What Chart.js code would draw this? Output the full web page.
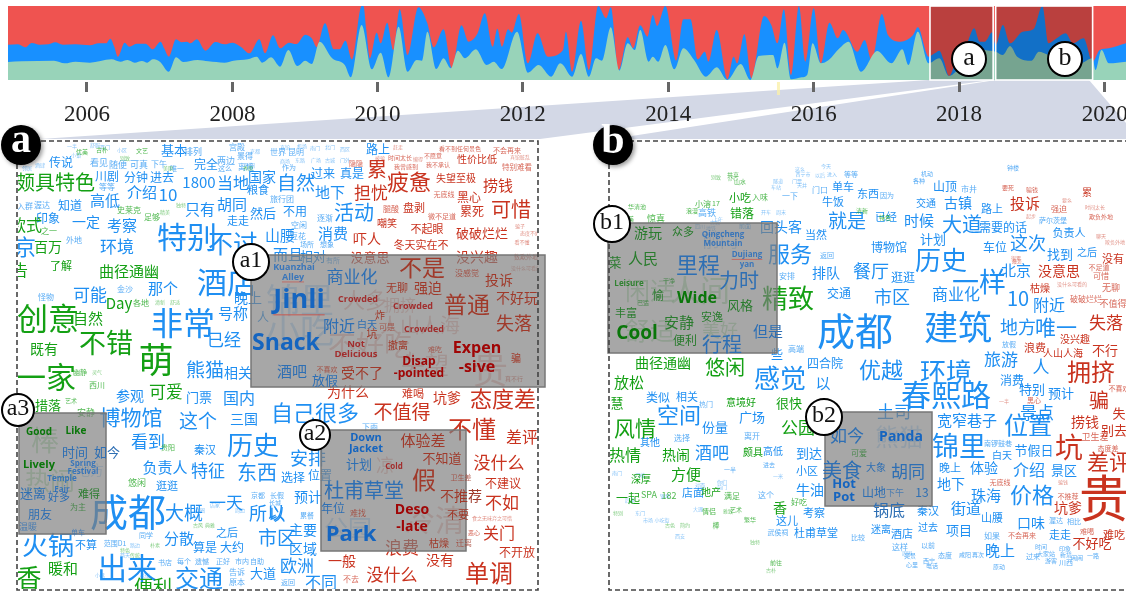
<!DOCTYPE html>
<html>
<head>
<meta charset="utf-8">
<title>Stream and word clouds</title>
<script src="https://cdn.jsdelivr.net/npm/chart.js@4"></script>
<style>
  html, body { margin: 0; padding: 0; background: #fff; overflow: hidden; }
  canvas { position: absolute; left: 0; top: 0; }
  #cloud { filter: blur(0.5px); }
  #stream { filter: blur(0.3px); }
</style>
</head>
<body>
<canvas id="cloud" width="1126" height="591"></canvas>
<canvas id="stream" width="1126" height="130"></canvas>
<script>
// time axis: sample index along the stream
const tickPositions = [242, 647, 1051, 1456, 1861, 2266, 2671, 3077];
const tickLabels = ['2006', '2008', '2010', '2012', '2014', '2016', '2018', '2020'];

// top of the blue band
const blueX = [22,50,70,88,110,135,153,175,210,250,275,295,307,318,328,347,360,380,405,425,447,457,470,490,505,520,530,548,572,600,625,648,670,695,722,738,760,780,805,825,850,868,882,905,930,945,962,980,1007,1012,1020,1030,1049,1060,1078,1095,1113,1135,1165,1190,1208,1235,1258,1285,1305,1330,1350,1372,1385,1398,1415,1425,1445,1470,1497,1525,1568,1576,1593,1618,1640,1666,1688,1701,1723,1748,1763,1783,1803,1818,1830,1853,1883,1903,1923,1943,1963,1973,1996,2026,2043,2053,2073,2093,2128,2148,2165,2183,2203,2225,2243,2266,2286,2310,2333,2348,2388,2408,2428,2456,2473,2508,2543,2556,2586,2603,2616,2628,2643,2668,2693,2713,2728,2743,2763,2773,2793,2813,2848,2878,2903,2920,2943,2968,2988,3018,3043,3063,3088,3136];
const blueTop = [106,107,98,111,106,107,113,106,107,104,110,110,124,100,70,112,100,109,109,92,115,95,70,122,113,115,110,122,88,114,107,112,100,80,122,80,134,95,112,108,136,125,98,170,92,92,118,62,222,222,150,65,142,110,172,90,212,75,218,170,98,152,35,164,115,140,200,100,154,100,152,142,198,50,140,70,90,145,25,178,30,222,185,218,30,128,95,164,130,195,162,222,58,182,182,62,85,55,150,2,70,50,137,5,192,165,110,212,15,222,55,215,50,172,125,150,85,120,58,198,135,115,135,158,70,80,88,60,12,75,110,155,115,115,143,105,165,110,145,152,222,110,125,140,110,125,55,90,95,110];

// top of the green band
const greenX = [22,60,150,180,210,250,310,335,355,375,395,410,425,445,470,490,510,550,580,625,650,690,715,730,755,780,803,828,850,868,890,925,960,977,1007,1035,1060,1082,1110,1135,1160,1175,1190,1215,1235,1255,1275,1295,1325,1355,1375,1397,1440,1470,1500,1535,1560,1568,1593,1618,1640,1660,1676,1701,1725,1748,1768,1783,1806,1818,1833,1853,1878,1903,1933,1966,1996,2025,2063,2090,2113,2153,2165,2185,2203,2233,2248,2263,2286,2308,2338,2363,2398,2443,2483,2513,2530,2556,2586,2616,2643,2668,2693,2713,2743,2773,2793,2813,2833,2873,2893,2920,2948,2968,3008,3043,3051,3068,3088,3136];
const greenTop = [54,56,58,50,55,52,62,55,60,52,57,52,62,55,25,68,54,60,56,52,58,62,70,52,68,40,90,42,58,48,115,65,45,8,165,32,82,8,160,25,60,58,145,33,65,35,88,65,92,45,55,33,145,22,45,10,50,45,10,78,10,65,58,158,28,110,90,150,55,70,55,105,32,95,60,10,38,0,48,0,72,75,35,112,2,8,15,110,50,60,95,115,25,87,50,92,45,145,50,65,12,30,50,105,90,85,75,102,70,58,85,75,60,65,50,65,30,90,50,55];

const streamFull = 222;
const streamMin = -6;
const periods = [[2590, 2766], [2773, 3043]];
const periodNames = ['a', 'b'];

// word clouds: [word, x, y, size]
const aBlueWords = [
  ['传说',61,162,12],['川剧',107,176,12],['分钟',136,177,12],['进去',162,177,12],['看见',99,163,9],['随便',118,165,9],['可真',139,165,9],['下午',159,164,8],['基本',174,150,13],['排列',193,152,9],['完全',206,164,12],['两边',226,161,9],['这么',225,168,7],['宫殿',237,147,8],['景得',245,156,8],['离境',246,167,8],['等等',107,187,8],['介绍',142,192,15],['10',168,195,17],['1800',199,182,15],['当地',233,183,16],['国家',262,177,14],['粮食',258,190,11],['高低',105,200,15],['知道',70,205,12],['渥达',42,205,8],['入群',25,206,8],['一定',86,222,14],['考察',122,225,15],['印象',48,218,12],['只有',200,209,15],['胡同',232,204,15],['然后',263,213,13],['走走',238,221,11],['特别',187,237,30],['不过',233,243,25],['山腰',280,235,15],['环境',117,247,17],['京',25,247,22],['外地',74,240,8],['金沙',125,289,8],['怪物',46,297,8],['那个',163,288,15],['可能',90,295,17],['酒店',227,282,30],['晚上',248,298,14],['号称',233,313,15],['人',263,317,12],['非常',183,323,32],['已经',224,340,17],
  ['熊猫',205,370,19],['相关',238,373,14],['门票',199,397,13],['国内',239,398,16],['参观',130,396,14],['这个',198,421,19],['三国',244,419,14],['自己很多',315,413,22],['博物馆',131,417,21],['看到',148,442,17],['历史',253,445,26],['秦汉',205,450,11],['负责人',165,467,15],['特征',208,471,17],['东西',257,472,20],['逛逛',167,486,11],['大概',184,513,19],['一天',226,503,17],['所以',267,513,18],['成都',128,512,38],['分散',179,538,15],['算是',205,547,12],['大约',232,547,12],['之后',227,533,11],['市区',277,538,19],['火锅',48,545,26],['出来',127,568,30],['交通',199,578,24],['不算',86,545,11],['范围D1',115,543,7],['同学',146,535,7],['书店',165,562,7],['每个',184,561,7],['遗憾',202,561,7],['正好',223,561,7],['市内',242,561,7],['自助',257,561,7],['告诉',237,572,8],['原本',237,582,8],['大道',263,573,13],['区域',303,549,14],['主要',303,530,14],['欧洲',297,566,17],['不同',321,582,16],['返回',288,582,7],['预计',308,497,14],['选择',293,477,12],['位置',320,475,12],['安排',308,458,18],['长假',277,495,7],['累餐',307,515,7],['以',277,515,17],['下雨',370,427,8],
  ['世界',278,152,8],['昆明',296,152,8],['自然',296,183,19],['过来',323,173,12],['真是',352,173,12],['路上',378,149,12],['地下',330,192,15],['活动',354,212,20],['旅行团',282,199,8],['不用',295,211,12],['逐渐',325,218,8],['消费',333,233,15],['空闲',299,225,8],['豆花',298,236,8],['场所',307,244,7],['想象',327,244,7],['而且',288,254,15],['相对',313,256,13],['有所',333,260,7],['作为',289,167,7],
  ['京都',255,151,5],['宾馆',285,147,5],['机场',302,146,5],['商场',285,161,5],['东路',300,160,5],['南门',315,148,5],['北门',330,147,5],['西区',345,149,5],['广场',316,160,5],['古城',330,160,5],['门外',345,160,5],['唯一',177,168,7],['舒服',95,145,5],['一半',72,146,5],['小区',122,150,5],['时间',250,165,5],['京都',258,495,7],['长城',275,503,6],['酒肆',40,165,5],['邻居',27,168,5],['小镇',76,155,5],['西门',105,147,5],['周边',240,510,5],['商圈',200,510,5],['店家',215,505,5],['小巷',100,575,5],['老街',145,575,5],['两天',125,555,5],['路边',135,545,5]
];
const aGreenWords = [
  ['颇具特色',55,182,20],['款式',26,225,16],['百万',48,247,14],['之一',49,231,8],['了解',61,266,11],['告',20,270,16],['曲径通幽',129,271,15],['史莱克',129,210,8],['足够',152,217,8],['创意',48,318,31],['自然',88,318,15],['Day',119,303,15],['各地',141,303,8],['不错',106,343,27],['既有',44,349,14],['萌',156,360,35],['一家',46,377,30],['可爱',166,392,17],['措落',48,405,13],['艺术',71,401,6],['安静',86,413,9],['西川',97,385,8],['悠闲',137,483,9],['便利',153,587,19],['香',29,577,25],['暖和',63,568,15],['贵阳',168,447,7],['清新',160,302,5],['舒适',175,302,5],['优美',82,152,6],['古朴',102,150,6],['别致',125,158,5],['文艺',142,151,6],['美丽',168,168,5],['幽静',80,372,7],['灵气',97,372,5],['古风',198,525,5],['典雅',210,525,5],['特色',125,550,5],['传统',135,555,5],['朴素',155,545,5],['秀丽',248,168,5],['独特',181,205,5],['精美',165,212,5]
];
const aRedWords = [
  ['为什么',348,392,14],['累',377,169,20],['隐隐',356,163,7],['疲惫',409,182,22],['担忧',371,193,17],['失望至极',456,178,10],['捞钱',498,185,15],['性价比低',477,159,10],['特别难看',517,167,7.5],['无底线',444,194,7],['黑心',469,197,12],['可惜',511,209,20],['累死',472,211,12],['盘剥',414,208,11],['腿酸',391,209,8],['微不足道',442,216,7],['嘲笑',387,223,10],['不起眼',427,229,11],['破破烂烂',482,233,13],['吓人',367,239,14],['冬天实在不',421,245,11],['没意思',370,257,13],['没兴趣',477,257,14],
  ['赶走',398,147,5],['时间太长',400,158,6],['懒得',418,159,5],['不愿意',433,156,6],['我不承认',438,165,6],['我曾感到',406,167,6],['看不到任何景色',460,149,6],['不会再来',507,150,7],['宾馆脏乱',520,157,5],['被骗',380,158,5],['骗子',520,226,5],['态度不好',530,233,5],['看不懂',522,242,5],['数欺外地',526,257,6],['没什么可看的',526,268,5],
  ['难喝',413,394,11],['不值得',402,412,19],['坑爹',447,398,14],['态度差',503,399,22],['不懂',472,429,24],['差评',522,437,16],['没什么',499,463,17],['不建议',503,483,12],['不如',502,503,17],['关门',499,533,16],['不开放',517,552,12],['一般',342,561,14],['不去',351,579,8],['没什么',392,575,17],['单调',489,573,24],['没有',440,560,14],['浪费',402,548,17],['食之无味弃之可惜',492,518,5],['恶心',474,533,6],['真不行',514,379,6]
];
const aGhostWords = [
  ['锦里',300,300,34,'b'],['小吃',300,330,34,'b'],['人多',365,300,22,'r'],['不好吃',370,345,28,'r'],['人山人海',420,325,20,'r'],['拥挤',400,305,16,'r'],['贵',490,370,36,'r'],['失望',425,365,24,'r'],
  ['棒',45,440,28,'g'],['热闹',50,480,25,'g'],['地方',90,470,14,'b'],
  ['公园',348,528,24,'b'],['凉',385,465,18,'r'],['冷清',435,520,30,'r']
];
const aBoxBlue = [['商业化',352,277,17],['附近',339,326,16],['白天',367,324,10],['酒吧',292,371,15],['放假',325,380,13],['计划',359,464,13],['杜甫草堂',364,490,20],['年位',333,508,12],['时间',75,452,13],['如今',107,452,13],['迷离',33,493,13],['好多',59,497,11],['朋友',40,514,12],['单车',78,532,7],['温暖',28,527,9]];
const aBoxGreen = [['难得',89,494,11],['为主',78,507,8]];
const aBoxRed = [['不是',422,267,23],['没感觉',467,273,8],['投诉',499,280,14],['无聊',397,288,11],['强迫',428,288,14],['普通',467,304,23],['不好玩',517,298,14],['失落',514,323,18],['撤离',398,345,10],['难吃',435,349,7],['骗',516,358,10],['受不了',362,373,14],['不喜欢',327,369,7],['炸',380,315,10],['坑',372,334,11],['可是',387,327,8],['体验差',423,440,15],['不知道',442,458,13],['假',424,480,24],['卫生差',461,477,7],['不推荐',461,496,14],['不要',458,515,11],['难找',358,513,8],['枯燥',439,543,10],['迁离',464,543,8]];
const aKeyBlue = [['Jinli',299,300,27],['Kuanzhai',294,267,9],['Alley',293,277,9],['Snack',286,343,23],['Down',366,438,11],['Jacket',366,449,11],['Park',351,535,22],['Spring',83,464,8],['Festival',83,472,8],['Temple',62,479,8],['Fair',62,490,8]];
const aKeyGreen = [['Good',39,432,10],['Like',76,431,10],['Lively',39,465,11]];
const aKeyRed = [['Crowded',358,299,9],['Crowded',413,306,9],['Crowded',424,329,9],['Not',356,344,9.5],['Delicious',356,354,9.5],['Disap',419,362,12],['-pointed',419,374,12],['Expen',477,348,16],['-sive',477,367,16],['Cold',394,467,8],['Deso',412,510,14],['-late',412,527,14]];

const bBlueWords = [
  ['回头客',781,227,14],['当然',816,235,11],['服务',790,254,22],['返回',827,255,7],['安排',787,276,8],['排队',826,273,14],['交通',839,293,12],['成都',855,331,38],['牛饭',833,202,11],['就是',847,221,19],['单车',843,187,11],['门口',820,190,8],['一下',790,196,8],['些',777,354,12],['高端',796,349,8],['四合院',825,363,12],['感觉',780,378,26],['以',823,383,15],['类似',658,397,12],['相关',687,397,11],['热门',706,404,7],['空间',679,415,22],['份量',715,427,13],['广场',752,417,13],['其他',650,442,10],['选择',682,438,8],['离开',752,436,8],['酒吧',712,453,17],['高低',773,451,10],['到达',809,453,13],['小区',807,471,11],['店面',693,493,11],['这个',766,495,8],['牛油',810,490,14],['这儿',787,521,11],['考察',814,513,11],['杜甫草堂',816,533,11],['武侯祠',778,532,7],['高铁',707,213,9],['东西',868,194,11],['因为',887,195,7],['机动',927,174,6],['各种',919,181,6],['钟楼',1013,168,6],['山顶',945,186,12],['市井',969,189,8],['交通',926,203,10],['古镇',958,203,14],['路上',992,209,11],['已经',886,217,11],['时候',919,220,15],['大道',962,224,20],['需要的话',1003,227,12],['萨尔茨堡',1053,220,7],['负责人',1069,233,11],['计划',933,239,13],['这次',1028,243,18],['车位',995,247,12],['博物馆',889,247,12],['历史',941,260,26],['找到',1060,254,13],['之后',1087,252,10],['北京',1016,270,15],['餐厅',871,271,18],['逛逛',903,277,12],['一样',979,282,27],['商业化',956,294,16],['市区',892,297,18],['10',1018,298,20],['附近',1049,305,16],['建筑',958,327,34],['地方',1018,327,18],['唯一',1056,327,21],['放假',1009,344,7],
  ['优越',881,370,22],['环境',946,372,26],['旅游',1001,360,17],['人',1041,367,17],['消费',1012,380,12],['春熙路',946,395,30],['特别',1032,389,13],['预计',1061,393,13],['土司',894,412,17],['景点',1037,413,17],['位置',1028,425,24],['宽窄巷子',967,420,15],['锦里',959,446,27],['南锣鼓巷',998,443,7],['节假日',1034,450,13],['白天',1002,455,10],['晚上',950,468,11],['体验',984,468,14],['介绍',1029,470,16],['景区',1064,470,13],['地下',951,484,14],['珠海',986,495,15],['价格',1032,495,22],['街道',966,508,15],['秦汉',928,511,11],['山腰',992,518,11],['口味',1031,523,14],['相比',1074,521,7],['渥达',1056,520,7],['过去',928,527,10],['迷离',881,529,10],['酒店',902,534,11],['项目',959,530,13],['如果',992,536,8],['走走',1060,535,11],['这样',900,547,8],['以前',928,545,7],['晚上',1000,550,15],['比较',858,537,7],
  ['这么',800,169,5],['今天',826,166,5],['西宁市',803,174,5],['以后',820,175,5],['进入',832,174,5],['等等',851,174,7],['门票',797,181,5],['天井',802,185,5],['隧道',778,181,5],['车站',776,187,5],['开车',766,212,5],['周末',781,212,5],['四川',700,226,5],['地铁',711,228,5],['古城',715,222,5],['上午',718,219,5],['前面',745,226,6],['市场',648,520,5],['小吃街',662,520,5],['后来',630,500,5],['对面',700,485,5],['前门',722,487,5],['门楼',640,475,5],['进去',769,465,6],['一半',730,470,6],['一米',778,476,5],['你们',722,482,5],['周围',907,553,5],['西宁',929,561,6],['心里',912,565,6],['电话',932,566,6],['态度',945,555,7],['咸阳',965,555,6],['再次',978,555,6],['过来',1033,556,7],['大家站',1046,554,6],['游客',1051,561,6],['时间',1041,547,6],['印象',1065,549,6],['新境',1066,555,6],['川西',1066,562,7],['闹闹',1077,558,6],['一路',1093,556,6],['原动',999,567,6],['亮景',910,556,6],['东门',640,513,5],['西安',680,536,5],['大理',698,509,5],['南门',617,473,5],['钢琴',665,496,5]
];
const bGreenWords = [
  ['共享',733,175,6],['山水',740,182,6],['小吃',740,198,11],['入味',760,197,8],['错落',742,213,12],['小溶',703,204,8],['17',716,203,7],['精致',788,298,26],['悠闲',725,367,20],['曲径通幽',663,363,14],['放松',629,382,15],['意境好',741,402,10],['很快',789,403,13],['风情',635,428,21],['公园',798,428,17],['热情',625,455,16],['热闹',676,455,14],['颇具',753,452,10],['方便',686,474,15],['深厚',641,479,10],['一起',628,498,12],['SPA',649,495,9],['182',669,496,9],['地产',711,492,10],['满足',732,496,8],['好吃',799,502,8],['香',780,508,14],['情侣',709,511,7],['艺术',736,510,6],['棒',716,525,7],['前往',776,563,6],['慧',617,403,13],['华清池',637,207,6],['浪漫',692,211,6],['惊喜',656,219,9],['小而美',625,219,6],['清新',862,211,6],['特色',885,218,6],['别致',716,177,5],['舒心',733,178,5],['雅致',728,511,5],['特别',618,513,5],['繁华',750,520,6],['古色',670,525,5],['简约',685,525,5],['独特',755,542,5],['古朴',771,570,5]
];
const bRedWords = [
  ['投诉',1025,203,15],['累',1087,192,10],['强迫',1059,209,8],['欺负外地',1101,217,6],['没有',1113,259,11],['没意思',1059,271,14],['不足道',1099,267,7],['可惜',1101,276,8],['枯燥',1040,288,10],['无聊',1111,288,9],['破破烂烂',1086,299,8],['不值得',1113,304,9],['失落',1106,323,17],['没兴趣',1075,339,10],['不行',1105,350,13],['浪费',1035,348,11],['人山人海',1063,353,10],['拥挤',1091,372,24],['不喜欢',1119,388,7],['骗',1099,400,20],['捞钱',1085,422,14],['失',1119,413,13],['别去',1114,430,13],['卫生差',1095,437,9],['态度差',1108,448,7],['坑',1069,447,28],['差评',1109,462,22],['贵',1104,498,50],['无底线',1000,482,7],['不推荐',1068,496,7],['坑爹',1068,508,14],['不会再来',1022,535,7],['难喝',1087,531,7],['不好吃',1092,543,13],['难吃',1114,535,11],
  ['黑心',1034,400,7],['一半',1004,401,5],['要死',1008,188,6],['骗钱',1032,190,6],['起步',1031,216,5],['时间太长',1095,207,5],['要么',1067,200,5],['聊天',1101,236,5],['欺负外地',1115,242,5],['没什么可看的',1072,284,5],['最差',1017,261,5],['很累',1016,258,5],['骗钱',1063,482,5]
];
const bGhostWords = [['人间',700,290,30,'g'],['闲适',650,290,25,'g'],['舒适',650,330,25,'g'],['前门',720,240,18,'b'],['熊猫',899,437,24,'b'],['美好',720,330,18,'g']];
const bBoxBlue = [['里程',698,265,22],['力时',739,280,20],['行程',722,344,20],['但是',768,331,15],['如今',847,436,17],['美食',842,470,20],['胡同',908,472,17],['大象',876,467,10],['山地',874,492,12],['下午',895,493,9],['13',922,492,12],['锅底',889,510,16]];
const bBoxGreen = [['游玩',648,233,14],['众多',683,232,11],['人民',643,258,15],['菜',615,262,13],['愉',658,295,12],['风格',740,305,13],['丰富',626,313,11],['安静',679,322,15],['安逸',712,317,11],['便利',685,340,12],['干净',669,281,6],['巴适',643,303,6],['可爱',859,453,8]];
const bKeyBlue = [['Qingcheng',723,235,8],['Mountain',723,244,8],['Dujiang',747,255,8],['yan',747,265,8],['Hot',844,484,13],['Pot',844,497,13],['Panda',901,437,14]];
const bKeyGreen = [['Leisure',629,284,8],['Wide',697,298,16],['Cool',637,334,19]];
const underlined = ['Jinli', 'Alley', 'Dujiang'];

const WORD_BLUE = '#1f8ff2', WORD_GREEN = '#14a014', WORD_RED = '#c9331f';
const BOX_BLUE = '#2e6fb4', BOX_GREEN = '#2a7c2e', BOX_RED = '#a03a2b';
const KEY_BLUE = '#1565c0', KEY_GREEN = '#0a760a', KEY_RED = '#a00606';
const CJK = '"Noto Sans CJK SC", "Noto Sans", sans-serif';
const panelRects = { a: [18, 142, 520, 447], b: [610, 142, 516, 447] };
const boxes = [[251, 255, 294, 132], [321, 430, 145, 121], [19, 413, 87, 121], [608, 223, 169, 130], [825, 412, 107, 94]];

function toPoints(list) {
  return list.map(w => ({ x: w[1], y: w[2], word: w[0], size: w[3], tone: w[4] }));
}
function wordSet(list, panel, layer, color, bold) {
  return { data: toPoints(list), panel, layer, color, bold, pointRadius: 0, showLine: false };
}
const ghostColor = { b: WORD_BLUE, g: WORD_GREEN, r: WORD_RED };

function disc(ctx, x, y, r, letter, dark, font) {
  ctx.save();
  ctx.beginPath();
  ctx.arc(x, y, r, 0, Math.PI * 2);
  if (dark) { ctx.shadowColor = 'rgba(0,0,0,.4)'; ctx.shadowBlur = 4; ctx.shadowOffsetX = 2; ctx.shadowOffsetY = 2; }
  ctx.fillStyle = dark ? '#000' : '#fff';
  ctx.fill();
  ctx.shadowColor = 'transparent';
  if (!dark) { ctx.lineWidth = 2; ctx.strokeStyle = '#000'; ctx.stroke(); }
  ctx.fillStyle = dark ? '#fff' : '#111';
  ctx.font = font;
  ctx.textAlign = 'center';
  ctx.textBaseline = 'middle';
  ctx.fillText(letter, x, y - (dark ? 3 : 1));
  ctx.restore();
}

const cloudPlugin = {
  id: 'cloudPlugin',
  beforeDatasetsDraw(chart) {
    const ctx = chart.ctx;
    ctx.save();
    ctx.fillStyle = '#d3d8e6';
    [[[929, 80], [992, 80], [540, 139], [40, 139]], [[996, 80], [1089, 80], [1126, 123], [1126, 139], [612, 139]]].forEach(poly => {
      ctx.beginPath();
      poly.forEach((p, i) => i ? ctx.lineTo(p[0], p[1]) : ctx.moveTo(p[0], p[1]));
      ctx.closePath();
      ctx.fill();
    });
    ctx.restore();
  },
  afterDatasetsDraw(chart) {
    const ctx = chart.ctx;
    const xs = chart.scales.x, ys = chart.scales.y;
    const drawLayer = layer => {
      chart.data.datasets.forEach(ds => {
        if (ds.layer !== layer) return;
        ctx.save();
        const r = panelRects[ds.panel];
        ctx.beginPath();
        ctx.rect(r[0], r[1], r[2], r[3]);
        ctx.clip();
        ctx.textAlign = 'center';
        ctx.textBaseline = 'middle';
        ds.data.forEach(p => {
          const px = xs.getPixelForValue(p.x), py = ys.getPixelForValue(p.y);
          ctx.font = (ds.bold ? 'bold ' : '') + p.size + 'px ' + (ds.bold ? '"Open Sans", ' : '') + CJK;
          ctx.fillStyle = p.tone ? ghostColor[p.tone] : ds.color;
          ctx.globalAlpha = p.tone ? 0.3 : p.size < 6 ? 0.55 : p.size < 10 ? 0.75 : 1;
          ctx.fillText(p.word, px, py);
          if (underlined.includes(p.word)) {
            const w = ctx.measureText(p.word).width;
            ctx.strokeStyle = '#c9574e';
            ctx.lineWidth = 1;
            ctx.beginPath();
            ctx.moveTo(px - w / 2, py + p.size * 0.55);
            ctx.lineTo(px + w / 2, py + p.size * 0.55);
            ctx.stroke();
          }
        });
        ctx.restore();
      });
    };
    drawLayer('under');

    // highlighted groups
    ctx.save();
    boxes.forEach(b => {
      ctx.fillStyle = 'rgba(125,125,125,.68)';
      ctx.fillRect(b[0], b[1], b[2], b[3]);
      ctx.strokeStyle = '#777';
      ctx.lineWidth = 1.5;
      ctx.strokeRect(b[0], b[1], b[2], b[3]);
    });
    ctx.restore();
    drawLayer('over');

    // dashed panel frames
    ctx.save();
    ctx.strokeStyle = '#444';
    ctx.lineWidth = 1.6;
    ctx.setLineDash([5, 3]);
    ctx.strokeRect(17, 141, 521, 449);
    ctx.beginPath();
    ctx.moveTo(1130, 141); ctx.lineTo(609, 141); ctx.lineTo(609, 590); ctx.lineTo(1130, 590);
    ctx.stroke();
    ctx.restore();

    disc(ctx, 21, 145, 20, 'a', true, 'bold 40px "Liberation Serif"');
    disc(ctx, 613, 145, 20, 'b', true, 'bold 42px "Liberation Serif"');
    const small = '24px "Liberation Serif"';
    disc(ctx, 251, 262, 18, 'a1', false, small);
    disc(ctx, 315, 435, 15, 'a2', false, small);
    disc(ctx, 18, 410, 16, 'a3', false, small);
    disc(ctx, 612, 224, 18, 'b1', false, small);
    disc(ctx, 824, 417, 18, 'b2', false, small);
  }
};

new Chart(document.getElementById('cloud'), {
  type: 'scatter',
  data: {
    datasets: [
      wordSet(aBlueWords, 'a', 'under', WORD_BLUE), wordSet(aGreenWords, 'a', 'under', WORD_GREEN), wordSet(aRedWords, 'a', 'under', WORD_RED), wordSet(aGhostWords, 'a', 'under'),
      wordSet(bBlueWords, 'b', 'under', WORD_BLUE), wordSet(bGreenWords, 'b', 'under', WORD_GREEN), wordSet(bRedWords, 'b', 'under', WORD_RED), wordSet(bGhostWords, 'b', 'under'),
      wordSet(aBoxBlue, 'a', 'over', BOX_BLUE), wordSet(aBoxGreen, 'a', 'over', BOX_GREEN), wordSet(aBoxRed, 'a', 'over', BOX_RED),
      wordSet(bBoxBlue, 'b', 'over', BOX_BLUE), wordSet(bBoxGreen, 'b', 'over', BOX_GREEN),
      wordSet(aKeyBlue, 'a', 'over', KEY_BLUE, true), wordSet(aKeyGreen, 'a', 'over', KEY_GREEN, true), wordSet(aKeyRed, 'a', 'over', KEY_RED, true),
      wordSet(bKeyBlue, 'b', 'over', KEY_BLUE, true), wordSet(bKeyGreen, 'b', 'over', KEY_GREEN, true)
    ]
  },
  options: {
    responsive: false,
    animation: false,
    devicePixelRatio: 1,
    layout: { padding: 0 },
    plugins: { legend: { display: false }, tooltip: { enabled: false } },
    scales: {
      x: { type: 'linear', min: 0, max: 1126, display: false },
      y: { type: 'linear', min: 0, max: 591, reverse: true, display: false }
    }
  },
  plugins: [cloudPlugin]
});

const streamPlugin = {
  id: 'streamPlugin',
  afterDatasetsDraw(chart) {
    const ctx = chart.ctx, xs = chart.scales.x, ys = chart.scales.y;
    const top = ys.getPixelForValue(streamFull), bottom = ys.getPixelForValue(0);
    periods.forEach(p => {
      const x0 = xs.getPixelForValue(p[0]), x1 = xs.getPixelForValue(p[1]);
      ctx.save();
      ctx.fillStyle = 'rgba(0,0,0,.22)';
      ctx.fillRect(x0, top, x1 - x0, bottom - top);
      ctx.strokeStyle = '#fff';
      ctx.lineWidth = 1.6;
      ctx.strokeRect(x0, top, x1 - x0, bottom - top);
      ctx.restore();
    });
    disc(ctx, 969, 59, 17, periodNames[0], false, '26px "Liberation Serif"');
    disc(ctx, 1065, 59, 17, periodNames[1], false, '26px "Liberation Serif"');
    // faint marker below the stream
    ctx.save();
    ctx.fillStyle = 'rgba(250,240,170,.8)';
    ctx.fillRect(xs.getPixelForValue(2168) - 1.5, bottom + 2, 3, 13);
    ctx.restore();
  }
};

new Chart(document.getElementById('stream'), {
  type: 'line',
  data: {
    datasets: [
      { data: blueX.map(x => ({ x, y: streamFull })), backgroundColor: '#ef5350', fill: 'origin', borderWidth: 0, pointRadius: 0, order: 3 },
      { data: blueX.map((x, i) => ({ x, y: blueTop[i] })), backgroundColor: '#1890ff', fill: 'origin', borderWidth: 0, pointRadius: 0, cubicInterpolationMode: 'monotone', order: 2 },
      { data: greenX.map((x, i) => ({ x, y: greenTop[i] })), backgroundColor: '#98d3b9', fill: 'origin', borderWidth: 0, pointRadius: 0, cubicInterpolationMode: 'monotone', order: 1 }
    ]
  },
  options: {
    responsive: false,
    animation: false,
    devicePixelRatio: 1,
    layout: { padding: { left: 8, top: 6, right: 0, bottom: 0 } },
    plugins: { legend: { display: false }, tooltip: { enabled: false } },
    scales: {
      x: {
        type: 'linear',
        min: 22,
        max: 3136,
        afterBuildTicks: s => { s.ticks = tickPositions.map(value => ({ value })); },
        afterFit: s => { s.height = 48; s.paddingLeft = 0; s.paddingRight = 0; },
        grid: { drawOnChartArea: false, tickColor: '#666', tickWidth: 3, tickLength: 10 },
        border: { display: false },
        ticks: {
          autoSkip: false,
          maxRotation: 0,
          padding: 9,
          color: '#222',
          font: { family: '"Liberation Serif"', size: 23 },
          callback: v => tickLabels[tickPositions.indexOf(v)]
        }
      },
      y: { type: 'linear', min: streamMin, max: streamFull, display: false }
    }
  },
  plugins: [streamPlugin]
});
</script>
</body>
</html>
